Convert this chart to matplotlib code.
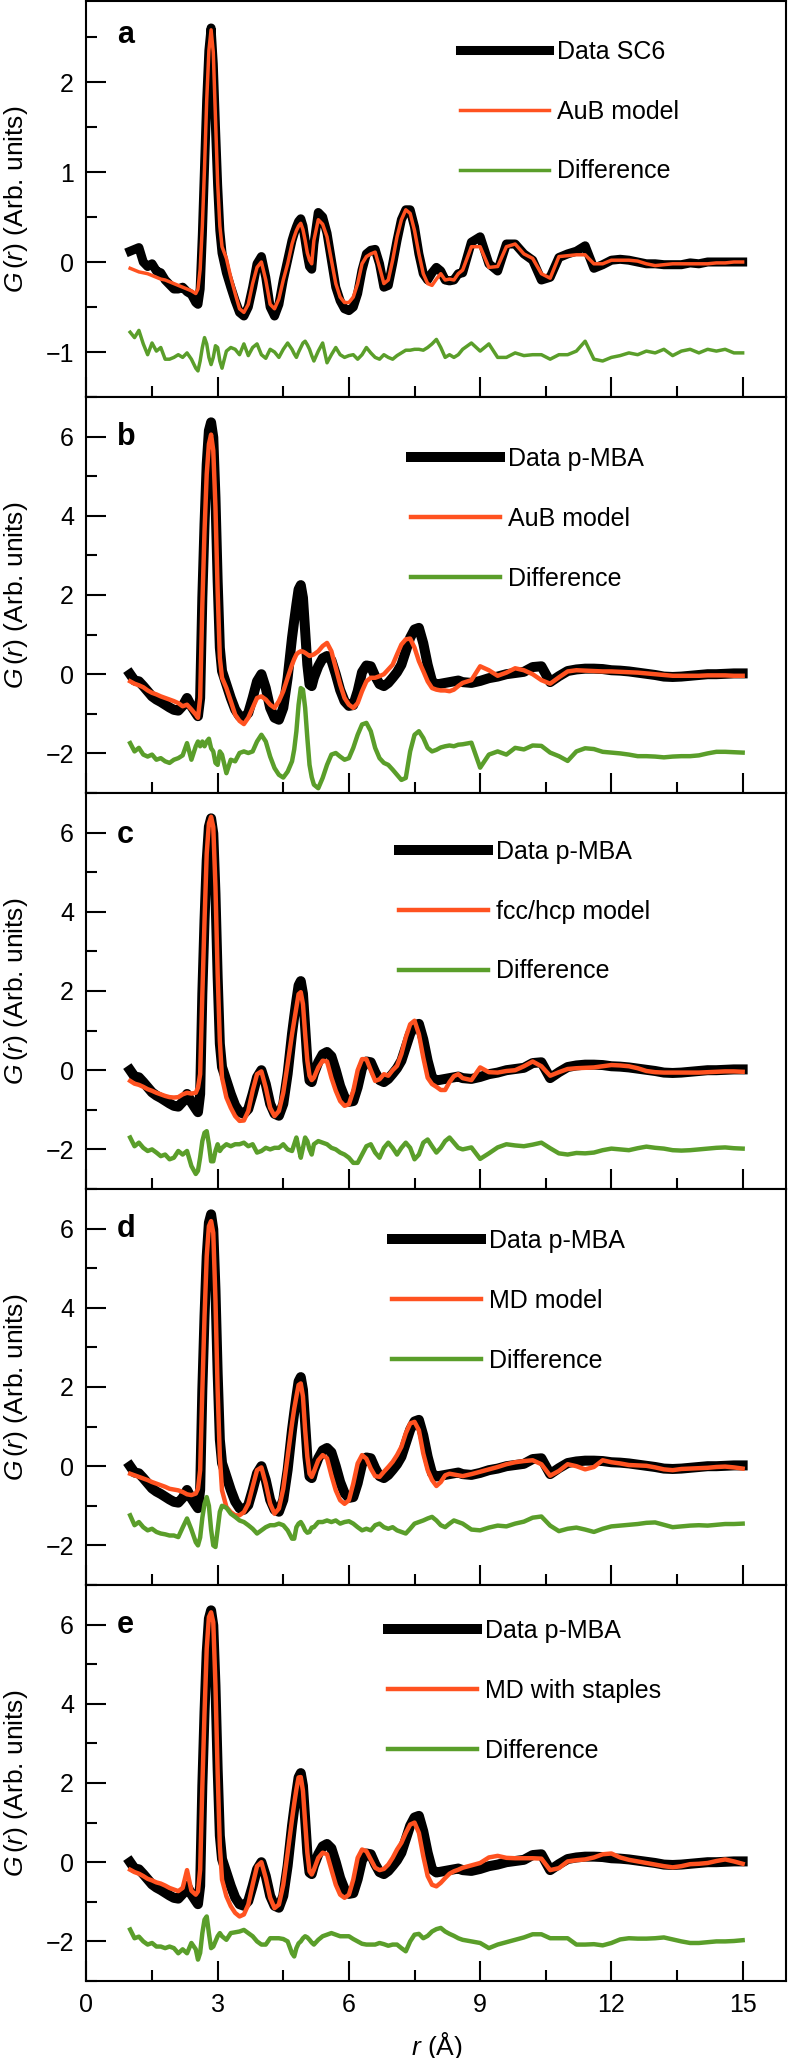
import numpy as np
import matplotlib.pyplot as plt
from matplotlib.ticker import MultipleLocator

plt.rcParams['font.family'] = ['Liberation Sans', 'DejaVu Sans']
plt.rcParams['mathtext.fontset'] = 'custom'
plt.rcParams['mathtext.it'] = 'Liberation Sans:italic'
plt.rcParams['mathtext.rm'] = 'Liberation Sans'

RED = '#ff5220'
GREEN = '#5a9e2a'

# r grid (A), finer around the sharp first peaks
r = [1.0, 1.1, 1.2, 1.3, 1.4, 1.5, 1.6, 1.7, 1.8, 1.9, 2.0, 2.1, 2.2, 2.3, 2.4, 2.5,
     2.55, 2.6, 2.65, 2.7, 2.75, 2.8, 2.85, 2.9, 2.95, 3.0, 3.05, 3.1,
     3.2, 3.3, 3.4, 3.5, 3.6, 3.7, 3.8, 3.9, 4.0, 4.1, 4.2, 4.3, 4.4, 4.5, 4.6, 4.7,
     4.75, 4.8, 4.85, 4.9, 4.95, 5.0, 5.05, 5.1, 5.15,
     5.2, 5.3, 5.4, 5.5, 5.6, 5.7, 5.8, 5.9, 6.0, 6.1, 6.2, 6.3, 6.4, 6.5, 6.6, 6.7, 6.8, 6.9, 7.0, 7.1,
     7.2, 7.3, 7.4, 7.5, 7.6, 7.7, 7.8, 7.9, 8.0, 8.1, 8.2, 8.3, 8.4, 8.5, 8.6,
     8.8, 9.0, 9.2, 9.4, 9.6, 9.8, 10.0, 10.2, 10.4, 10.6, 10.8, 11.0, 11.2, 11.4, 11.6, 11.8,
     12.0, 12.2, 12.4, 12.6, 12.8, 13.0, 13.2, 13.4, 13.6, 13.8, 14.0, 14.2, 14.4, 14.6, 14.8, 15.0]

# panel a : SC6
sc6_data = [0.12, 0.14, 0.16, 0.0, -0.05, -0.02, -0.1, -0.12, -0.2, -0.25, -0.3, -0.3, -0.28, -0.33, -0.36, -0.45,
            -0.47, -0.3, 0.3, 1.05, 1.8, 2.35, 2.6, 2.2, 1.5, 0.85, 0.35, 0.1,
            -0.12, -0.28, -0.43, -0.56, -0.6, -0.5, -0.28, -0.02, 0.06, -0.17, -0.5, -0.6, -0.47, -0.2, 0.02, 0.24,
            0.32, 0.39, 0.45, 0.48, 0.4, 0.24, 0.08, -0.05, -0.08,
            0.2, 0.55, 0.5, 0.32, 0.02, -0.28, -0.43, -0.52, -0.54, -0.5,
            -0.35, -0.09, 0.09, 0.13, 0.14, -0.02, -0.28, -0.26, -0.02, 0.24,
            0.47, 0.58, 0.58, 0.39, 0.09, -0.13, -0.2, -0.12, -0.06, -0.1,
            -0.2, -0.21, -0.2, -0.13, -0.12,
            0.22, 0.28, -0.02, -0.1, 0.2, 0.2, 0.09, 0.02, -0.2, -0.17,
            0.05, 0.09, 0.12, 0.18, -0.07, -0.03, 0.02, 0.03, 0.02, 0.0,
            -0.02, -0.02, -0.03, -0.03, -0.03, -0.01, -0.02, 0.0, 0.0, 0.0,
            0.0, 0.0]
aub_fit_a = [-0.07, -0.09, -0.11, -0.12, -0.13, -0.15, -0.17, -0.19, -0.2, -0.22, -0.24, -0.26, -0.28, -0.3, -0.32, -0.35,
             -0.3, -0.08, 0.4, 1.05, 1.8, 2.35, 2.58, 2.33, 1.6, 0.88, 0.4, 0.17,
             0.04, -0.17, -0.35, -0.52, -0.56, -0.47, -0.24, -0.06, 0.0, -0.2, -0.47, -0.52, -0.41, -0.2, -0.02, 0.2,
             0.28, 0.35, 0.4, 0.43, 0.36, 0.24, 0.1, 0.02, -0.02,
             0.24, 0.47, 0.42, 0.28, 0.02, -0.24, -0.39, -0.45, -0.45, -0.39,
             -0.24, -0.02, 0.06, 0.09, 0.11, -0.06, -0.24, -0.2, 0.02, 0.28,
             0.47, 0.58, 0.54, 0.35, 0.09, -0.13, -0.24, -0.26, -0.19, -0.13,
             -0.2, -0.19, -0.2, -0.13, -0.09,
             0.17, 0.17, -0.06, -0.05, 0.17, 0.2, 0.09, 0.04, -0.13, -0.18,
             0.06, 0.07, 0.08, 0.08, -0.02, -0.02, 0.02, 0.02, 0.02, 0.01,
             -0.02, -0.04, -0.03, -0.02, -0.02, -0.02, -0.02, -0.02, -0.01, -0.01,
             0.0, 0.0]
diff_a = [-0.78, -0.84, -0.76, -0.91, -1.03, -0.9, -0.99, -0.95, -1.08, -1.08, -1.06, -1.03, -1.06, -1.01, -1.08, -1.18,
          -1.21, -1.1, -0.95, -0.84, -0.91, -1.06, -1.14, -1.06, -0.93, -0.95, -1.1, -1.18,
          -0.99, -0.95, -0.97, -1.03, -0.91, -1.04, -0.95, -0.91, -1.03, -1.07, -0.97, -1.0, -1.06, -0.97, -0.9, -0.97,
          -1.02, -1.06, -1.0, -0.95, -0.9, -0.88, -0.92, -0.97, -1.04,
          -1.1, -0.99, -0.9, -1.12, -1.03, -0.95, -1.03, -1.06, -1.04, -1.03,
          -1.08, -1.03, -0.95, -1.01, -1.06, -1.08, -1.03, -1.06, -1.08, -1.04,
          -1.01, -0.98, -0.98, -0.97, -0.97, -0.98, -0.95, -0.91, -0.86, -0.95,
          -1.06, -1.03, -1.06, -1.03, -0.97,
          -0.9, -0.99, -0.91, -1.06, -1.06, -1.01, -1.04, -1.03, -1.03, -1.08,
          -1.03, -1.03, -0.99, -0.88, -1.08, -1.1, -1.06, -1.04, -1.01, -1.03,
          -0.99, -1.01, -0.97, -1.04, -0.99, -0.97, -1.01, -0.97, -0.99, -0.97,
          -1.01, -1.01]

# panels b-e : p-MBA data (same measurement in every panel)
pmba_data = [0.0, -0.16, -0.18, -0.3, -0.43, -0.56, -0.64, -0.7, -0.77, -0.84, -0.9, -0.92, -0.8, -0.6, -0.81, -0.98,
             -1.06, -0.6, 1.93, 3.79, 5.3, 6.15, 6.36, 5.98, 4.46, 2.35, 0.67, 0.08,
             -0.26, -0.6, -0.89, -1.06, -1.1, -0.98, -0.6, -0.18, 0.0, -0.35, -0.85, -1.1, -1.15, -0.85, -0.09, 0.92,
             1.35, 1.76, 2.14, 2.25, 1.93, 1.09, 0.24, -0.26, -0.3,
             -0.09, 0.2, 0.4, 0.46, 0.35, 0.0, -0.4, -0.68, -0.8, -0.78,
             -0.43, 0.05, 0.22, 0.2, -0.05, -0.25, -0.3, -0.22, -0.09, 0.05,
             0.24, 0.58, 0.92, 1.13, 1.17, 0.78, 0.24, -0.18, -0.26, -0.24,
             -0.22, -0.2, -0.18, -0.16, -0.2,
             -0.22, -0.17, -0.1, -0.06, 0.0, 0.03, 0.06, 0.18, 0.2, -0.2,
             -0.05, 0.08, 0.12, 0.14, 0.14, 0.13, 0.1, 0.09, 0.07, 0.04,
             0.01, -0.02, -0.06, -0.07, -0.06, -0.04, -0.02, 0.0, 0.0, 0.01,
             0.02, 0.02]

# panel b : AuB model
aub_fit_b = [-0.18, -0.24, -0.28, -0.33, -0.41, -0.47, -0.51, -0.56, -0.6, -0.64, -0.68, -0.73, -0.81, -0.77, -0.89, -1.02,
             -1.1, -0.6, 1.76, 3.62, 5.05, 5.81, 6.05, 5.65, 4.21, 2.1, 0.41, -0.09,
             -0.35, -0.68, -1.02, -1.18, -1.26, -1.1, -0.85, -0.6, -0.56, -0.64, -0.77, -0.85, -0.68, -0.43, -0.09, 0.24,
             0.38, 0.5, 0.55, 0.58, 0.57, 0.54, 0.5, 0.46, 0.48,
             0.5, 0.58, 0.71, 0.79, 0.58, 0.16, -0.26, -0.6, -0.77, -0.85,
             -0.73, -0.43, -0.18, -0.09, -0.09, -0.05, 0.0, 0.12, 0.24, 0.5,
             0.75, 0.88, 0.9, 0.67, 0.33, 0.08, -0.18, -0.35, -0.39, -0.41,
             -0.41, -0.43, -0.39, -0.3, -0.22,
             -0.15, 0.2, 0.1, -0.04, 0.04, 0.15, 0.1, 0.0, -0.15, -0.24,
             -0.08, 0.07, 0.1, 0.09, 0.08, 0.07, 0.07, 0.06, 0.05, 0.04,
             0.02, 0.0, -0.02, -0.04, -0.04, -0.04, -0.04, -0.03, -0.03, -0.03,
             -0.04, -0.04]
diff_b = [-1.74, -1.95, -1.86, -2.03, -2.08, -2.03, -2.16, -2.12, -2.2, -2.24, -2.16, -2.12, -2.05, -1.74, -2.16, -1.82,
          -1.7, -1.82, -1.7, -1.82, -1.7, -1.63, -1.87, -1.95, -2.24, -2.29, -1.95, -2.03,
          -2.5, -2.16, -2.2, -1.99, -1.95, -1.99, -1.95, -1.7, -1.53, -1.7, -2.08, -2.37, -2.54, -2.61, -2.46, -2.2,
          -1.9, -1.44, -0.77, -0.35, -0.39, -0.85, -1.61, -2.29, -2.6,
          -2.79, -2.88, -2.62, -2.29, -2.03, -1.99, -2.08, -2.16, -2.12, -1.86,
          -1.53, -1.27, -1.23, -1.44, -1.86, -2.12, -2.24, -2.29, -2.41, -2.54,
          -2.67, -2.62, -1.95, -1.53, -1.44, -1.61, -1.86, -1.95, -1.91, -1.85,
          -1.82, -1.8, -1.82, -1.78, -1.77,
          -1.73, -2.36, -2.03, -1.95, -2.03, -1.86, -1.9, -1.8, -1.81, -1.98,
          -2.07, -2.19, -1.95, -1.87, -1.89, -1.96, -1.98, -2.0, -2.03, -2.07,
          -2.07, -2.08, -2.1, -2.08, -2.07, -2.07, -2.05, -2.0, -1.96, -1.96,
          -1.97, -1.98]

# panel c : fcc/hcp model
fcc_fit = [-0.27, -0.34, -0.37, -0.42, -0.48, -0.52, -0.57, -0.61, -0.65, -0.68, -0.69, -0.68, -0.61, -0.57, -0.59, -0.57,
           -0.44, -0.1, 1.92, 3.78, 5.47, 6.23, 6.4, 6.14, 4.62, 2.43, 0.74, -0.19,
           -0.69, -0.95, -1.16, -1.28, -1.27, -1.03, -0.52, -0.1, -0.03, -0.44, -0.95, -1.16, -1.03, -0.57, 0.15, 0.91,
           1.25, 1.59, 1.92, 1.97, 1.67, 0.91, 0.24, -0.14, -0.25,
           -0.19, 0.07, 0.24, 0.22, -0.19, -0.52, -0.78, -0.9, -0.86, -0.52,
           0.0, 0.28, 0.28, 0.0, -0.27, -0.23, -0.1, -0.14, 0.0, 0.11,
           0.41, 0.83, 1.16, 1.25, 0.91, 0.32, -0.19, -0.35, -0.42, -0.5,
           -0.5, -0.3, -0.15, -0.1, -0.2,
           -0.25, 0.07, -0.05, -0.06, -0.02, 0.0, 0.1, 0.22, 0.1, -0.14,
           -0.05, 0.03, 0.05, 0.06, 0.07, 0.1, 0.13, 0.12, 0.1, 0.05,
           -0.02, -0.05, -0.06, -0.06, -0.06, -0.06, -0.06, -0.05, -0.04, -0.03,
           -0.03, -0.04]
diff_c = [-1.7, -1.92, -1.83, -1.96, -2.04, -2.0, -2.08, -2.17, -2.13, -2.25, -2.21, -2.04, -2.13, -2.04, -2.42, -2.62,
          -2.54, -2.2, -1.79, -1.58, -1.54, -1.87, -2.3, -2.3, -2.04, -1.87, -2.04, -1.96,
          -1.87, -1.92, -1.87, -1.87, -1.83, -1.92, -1.87, -2.08, -2.04, -1.96, -2.0, -1.96, -1.96, -1.87, -2.0, -2.04,
          -1.87, -1.7, -1.96, -2.21, -1.96, -1.7, -1.79, -2.0, -2.13,
          -1.87, -1.79, -1.83, -1.87, -1.96, -2.0, -2.08, -2.13, -2.21, -2.34,
          -2.34, -2.13, -1.92, -1.87, -2.08, -2.21, -1.96, -1.83, -1.96, -2.13,
          -1.96, -1.83, -1.96, -2.25, -2.13, -1.83, -1.75, -1.92, -2.08, -1.96,
          -1.79, -1.7, -1.83, -1.96, -2.0,
          -1.95, -2.24, -2.1, -1.95, -1.87, -1.9, -1.92, -1.88, -1.83, -1.97,
          -2.1, -2.13, -2.09, -2.1, -2.08, -2.02, -1.98, -2.0, -2.02, -1.97,
          -1.93, -1.96, -1.98, -2.02, -2.03, -2.02, -2.0, -1.98, -1.96, -1.95,
          -1.97, -1.98]

# panel d : MD model
md_fit = [-0.19, -0.23, -0.27, -0.31, -0.35, -0.4, -0.44, -0.48, -0.52, -0.57, -0.59, -0.61, -0.65, -0.71, -0.73, -0.69,
          -0.57, -0.1, 1.92, 3.78, 5.3, 6.06, 6.19, 5.89, 4.2, 1.92, 0.24, -0.61,
          -1.03, -1.16, -1.24, -1.24, -1.16, -0.95, -0.52, -0.1, -0.03, -0.44, -0.95, -1.2, -1.07, -0.57, 0.24, 1.08,
          1.45, 1.76, 2.05, 2.09, 1.76, 0.91, 0.24, -0.19, -0.27,
          -0.14, 0.15, 0.28, 0.2, -0.23, -0.61, -0.86, -0.95, -0.86, -0.44,
          0.07, 0.28, 0.19, -0.06, -0.25, -0.27, -0.14, -0.02, 0.11, 0.28,
          0.49, 0.83, 1.08, 1.12, 0.91, 0.32, -0.1, -0.35, -0.5, -0.4,
          -0.23, -0.19, -0.21, -0.23, -0.25,
          -0.2, -0.14, -0.08, -0.02, 0.05, 0.1, 0.13, 0.15, 0.05, -0.24,
          -0.12, 0.05, 0.0, -0.08, -0.02, 0.15, 0.1, 0.07, 0.03, 0.02,
          0.01, -0.03, -0.08, -0.1, -0.07, -0.06, -0.05, -0.04, -0.02, -0.01,
          -0.03, -0.06]
diff_d = [-1.24, -1.49, -1.41, -1.54, -1.62, -1.58, -1.66, -1.7, -1.72, -1.75, -1.75, -1.79, -1.55, -1.32, -1.6, -1.92,
          -2.0, -1.8, -1.3, -0.95, -0.78, -1.0, -1.6, -2.0, -2.04, -1.6, -1.15, -1.0,
          -1.05, -1.2, -1.28, -1.37, -1.41, -1.49, -1.58, -1.7, -1.62, -1.54, -1.49, -1.49, -1.45, -1.49, -1.62, -1.83,
          -1.83, -1.54, -1.45, -1.41, -1.5, -1.62, -1.68, -1.66, -1.55,
          -1.54, -1.41, -1.41, -1.37, -1.41, -1.37, -1.45, -1.41, -1.39, -1.45,
          -1.54, -1.62, -1.58, -1.62, -1.49, -1.45, -1.54, -1.58, -1.54, -1.62,
          -1.66, -1.7, -1.58, -1.45, -1.41, -1.37, -1.32, -1.28, -1.37, -1.49,
          -1.54, -1.45, -1.37, -1.41, -1.45,
          -1.6, -1.62, -1.55, -1.5, -1.52, -1.45, -1.4, -1.3, -1.27, -1.5,
          -1.64, -1.58, -1.55, -1.6, -1.66, -1.58, -1.52, -1.5, -1.48, -1.46,
          -1.43, -1.42, -1.48, -1.54, -1.52, -1.5, -1.49, -1.5, -1.48, -1.46,
          -1.46, -1.45]

# panel e : MD with staples
mds_fit = [-0.19, -0.25, -0.29, -0.35, -0.42, -0.46, -0.51, -0.54, -0.59, -0.65, -0.69, -0.73, -0.65, -0.2, -0.72, -0.82,
           -0.74, -0.19, 1.92, 3.78, 5.39, 6.19, 6.31, 6.06, 4.46, 2.26, 0.41, -0.44,
           -0.86, -1.11, -1.28, -1.37, -1.32, -1.07, -0.57, -0.1, 0.0, -0.4, -0.9, -1.16, -1.07, -0.57, 0.24, 1.08,
           1.48, 1.84, 2.14, 2.15, 1.8, 1.0, 0.24, -0.23, -0.31,
           -0.19, 0.11, 0.24, 0.2, -0.19, -0.57, -0.82, -0.9, -0.82, -0.44,
           0.11, 0.32, 0.28, 0.07, -0.14, -0.2, -0.17, -0.06, 0.11, 0.32,
           0.49, 0.74, 0.95, 1.0, 0.74, 0.15, -0.35, -0.57, -0.61, -0.52,
           -0.4, -0.29, -0.23, -0.19, -0.14,
           -0.08, -0.02, 0.12, 0.16, 0.11, 0.1, 0.1, 0.1, 0.09, -0.2,
           -0.15, 0.02, 0.05, 0.07, 0.12, 0.2, 0.22, 0.12, 0.06, 0.02,
           -0.02, -0.06, -0.1, -0.13, -0.1, -0.05, -0.04, -0.02, 0.03, 0.07,
           0.02, -0.04]
diff_e = [-1.7, -1.92, -1.88, -2.0, -2.08, -2.04, -2.13, -2.13, -2.17, -2.13, -2.17, -2.3, -2.2, -2.3, -2.04, -2.2,
          -2.46, -2.29, -1.79, -1.45, -1.37, -1.79, -2.17, -2.13, -2.0, -1.87, -1.79, -1.87,
          -1.96, -1.79, -1.77, -1.75, -1.71, -1.79, -1.87, -2.0, -2.08, -2.08, -1.92, -1.92, -1.92, -1.94, -2.0, -2.3,
          -2.38, -2.17, -2.05, -2.0, -1.92, -1.87, -1.9, -1.96, -2.03,
          -2.08, -1.96, -1.87, -1.83, -1.79, -1.83, -1.87, -1.87, -1.87, -1.94,
          -2.0, -2.06, -2.08, -2.08, -2.08, -2.04, -2.07, -2.11, -2.08, -2.08,
          -2.17, -2.25, -2.0, -1.83, -1.81, -1.92, -1.86, -1.75, -1.69, -1.66,
          -1.75, -1.81, -1.86, -1.92, -1.96,
          -2.0, -2.04, -2.17, -2.08, -2.02, -1.96, -1.9, -1.82, -1.82, -1.92,
          -1.92, -1.92, -2.08, -2.08, -2.07, -2.1, -2.04, -1.95, -1.92, -1.93,
          -1.93, -1.92, -1.9, -1.95, -2.0, -2.04, -2.04, -2.02, -2.0, -2.0,
          -1.99, -1.97]

panel_letters = ['a', 'b', 'c', 'd', 'e']
data_labels = ['Data SC6', 'Data p-MBA', 'Data p-MBA', 'Data p-MBA', 'Data p-MBA']
model_labels = ['AuB model', 'AuB model', 'fcc/hcp model', 'MD model', 'MD with staples']
data_series = [sc6_data, pmba_data, pmba_data, pmba_data, pmba_data]
model_series = [aub_fit_a, aub_fit_b, fcc_fit, md_fit, mds_fit]
diff_series = [diff_a, diff_b, diff_c, diff_d, diff_e]

# layout in pixels of the 788x2058 canvas
W, H = 788, 2058
X0, XW, PH = 86.4, 700.0, 396
tops = [1, 397, 793, 1189, 1585]
leg_x = [460, 411, 399, 392, 388]      # left end of legend handles
leg_y = [50, 61, 58, 51, 45]           # first legend row, below panel top
letter_y = [42, 48, 50, 48, 48]        # letter baseline, below panel top
ylims = [(-1.5, 2.9), (-3, 7), (-3, 7), (-3, 7), (-3, 7)]

fig = plt.figure(figsize=(W / 100, H / 100), dpi=100)

for i in range(5):
    ax = fig.add_axes([X0 / W, 1 - (tops[i] + PH) / H, XW / W, PH / H])
    if i == 0:
        lw_d, lw_m = 6.5, 2.5
        major, minor = 1, 0.5
    else:
        lw_d, lw_m = 7.2, 3.2
        major, minor = 2, 1
    ax.plot(r, data_series[i], color='k', lw=lw_d, label=data_labels[i])
    ax.plot(r, model_series[i], color=RED, lw=lw_m, label=model_labels[i])
    ax.plot(r, diff_series[i], color=GREEN, lw=lw_m, label='Difference')

    ax.set_xlim(0, 16)
    ax.set_ylim(*ylims[i])
    ax.xaxis.set_major_locator(MultipleLocator(3))
    ax.xaxis.set_minor_locator(MultipleLocator(1.5))
    ax.yaxis.set_major_locator(MultipleLocator(major))
    ax.yaxis.set_minor_locator(MultipleLocator(minor))
    ax.tick_params(which='both', direction='in', top=False, right=False, width=1.5)
    ax.tick_params(which='major', length=14.4, labelsize=18, pad=9)
    ax.tick_params(which='minor', length=8)
    for sp in ax.spines.values():
        sp.set_linewidth(1.5)
    if i < 4:
        ax.tick_params(labelbottom=False)
    else:
        ax.set_xlabel(r'$r$ (Å)', fontsize=19, labelpad=9)

    ax.set_ylabel(r'$G\,(r)$ (Arb. units)', fontsize=19)
    ax.yaxis.set_label_coords(-0.08, 0.5)

    ax.text((117 - X0) / XW, 1 - letter_y[i] / PH, panel_letters[i], transform=ax.transAxes,
            fontsize=22, fontweight='bold', va='baseline', ha='left')

    ax.legend(loc='upper left', bbox_to_anchor=((leg_x[i] - X0) / XW, 1 - (leg_y[i] - 11) / PH),
              frameon=False, fontsize=18, handlelength=3.56, handletextpad=0.32,
              labelspacing=1.43, borderpad=0, borderaxespad=0)

fig.savefig('out.png', dpi=100)
